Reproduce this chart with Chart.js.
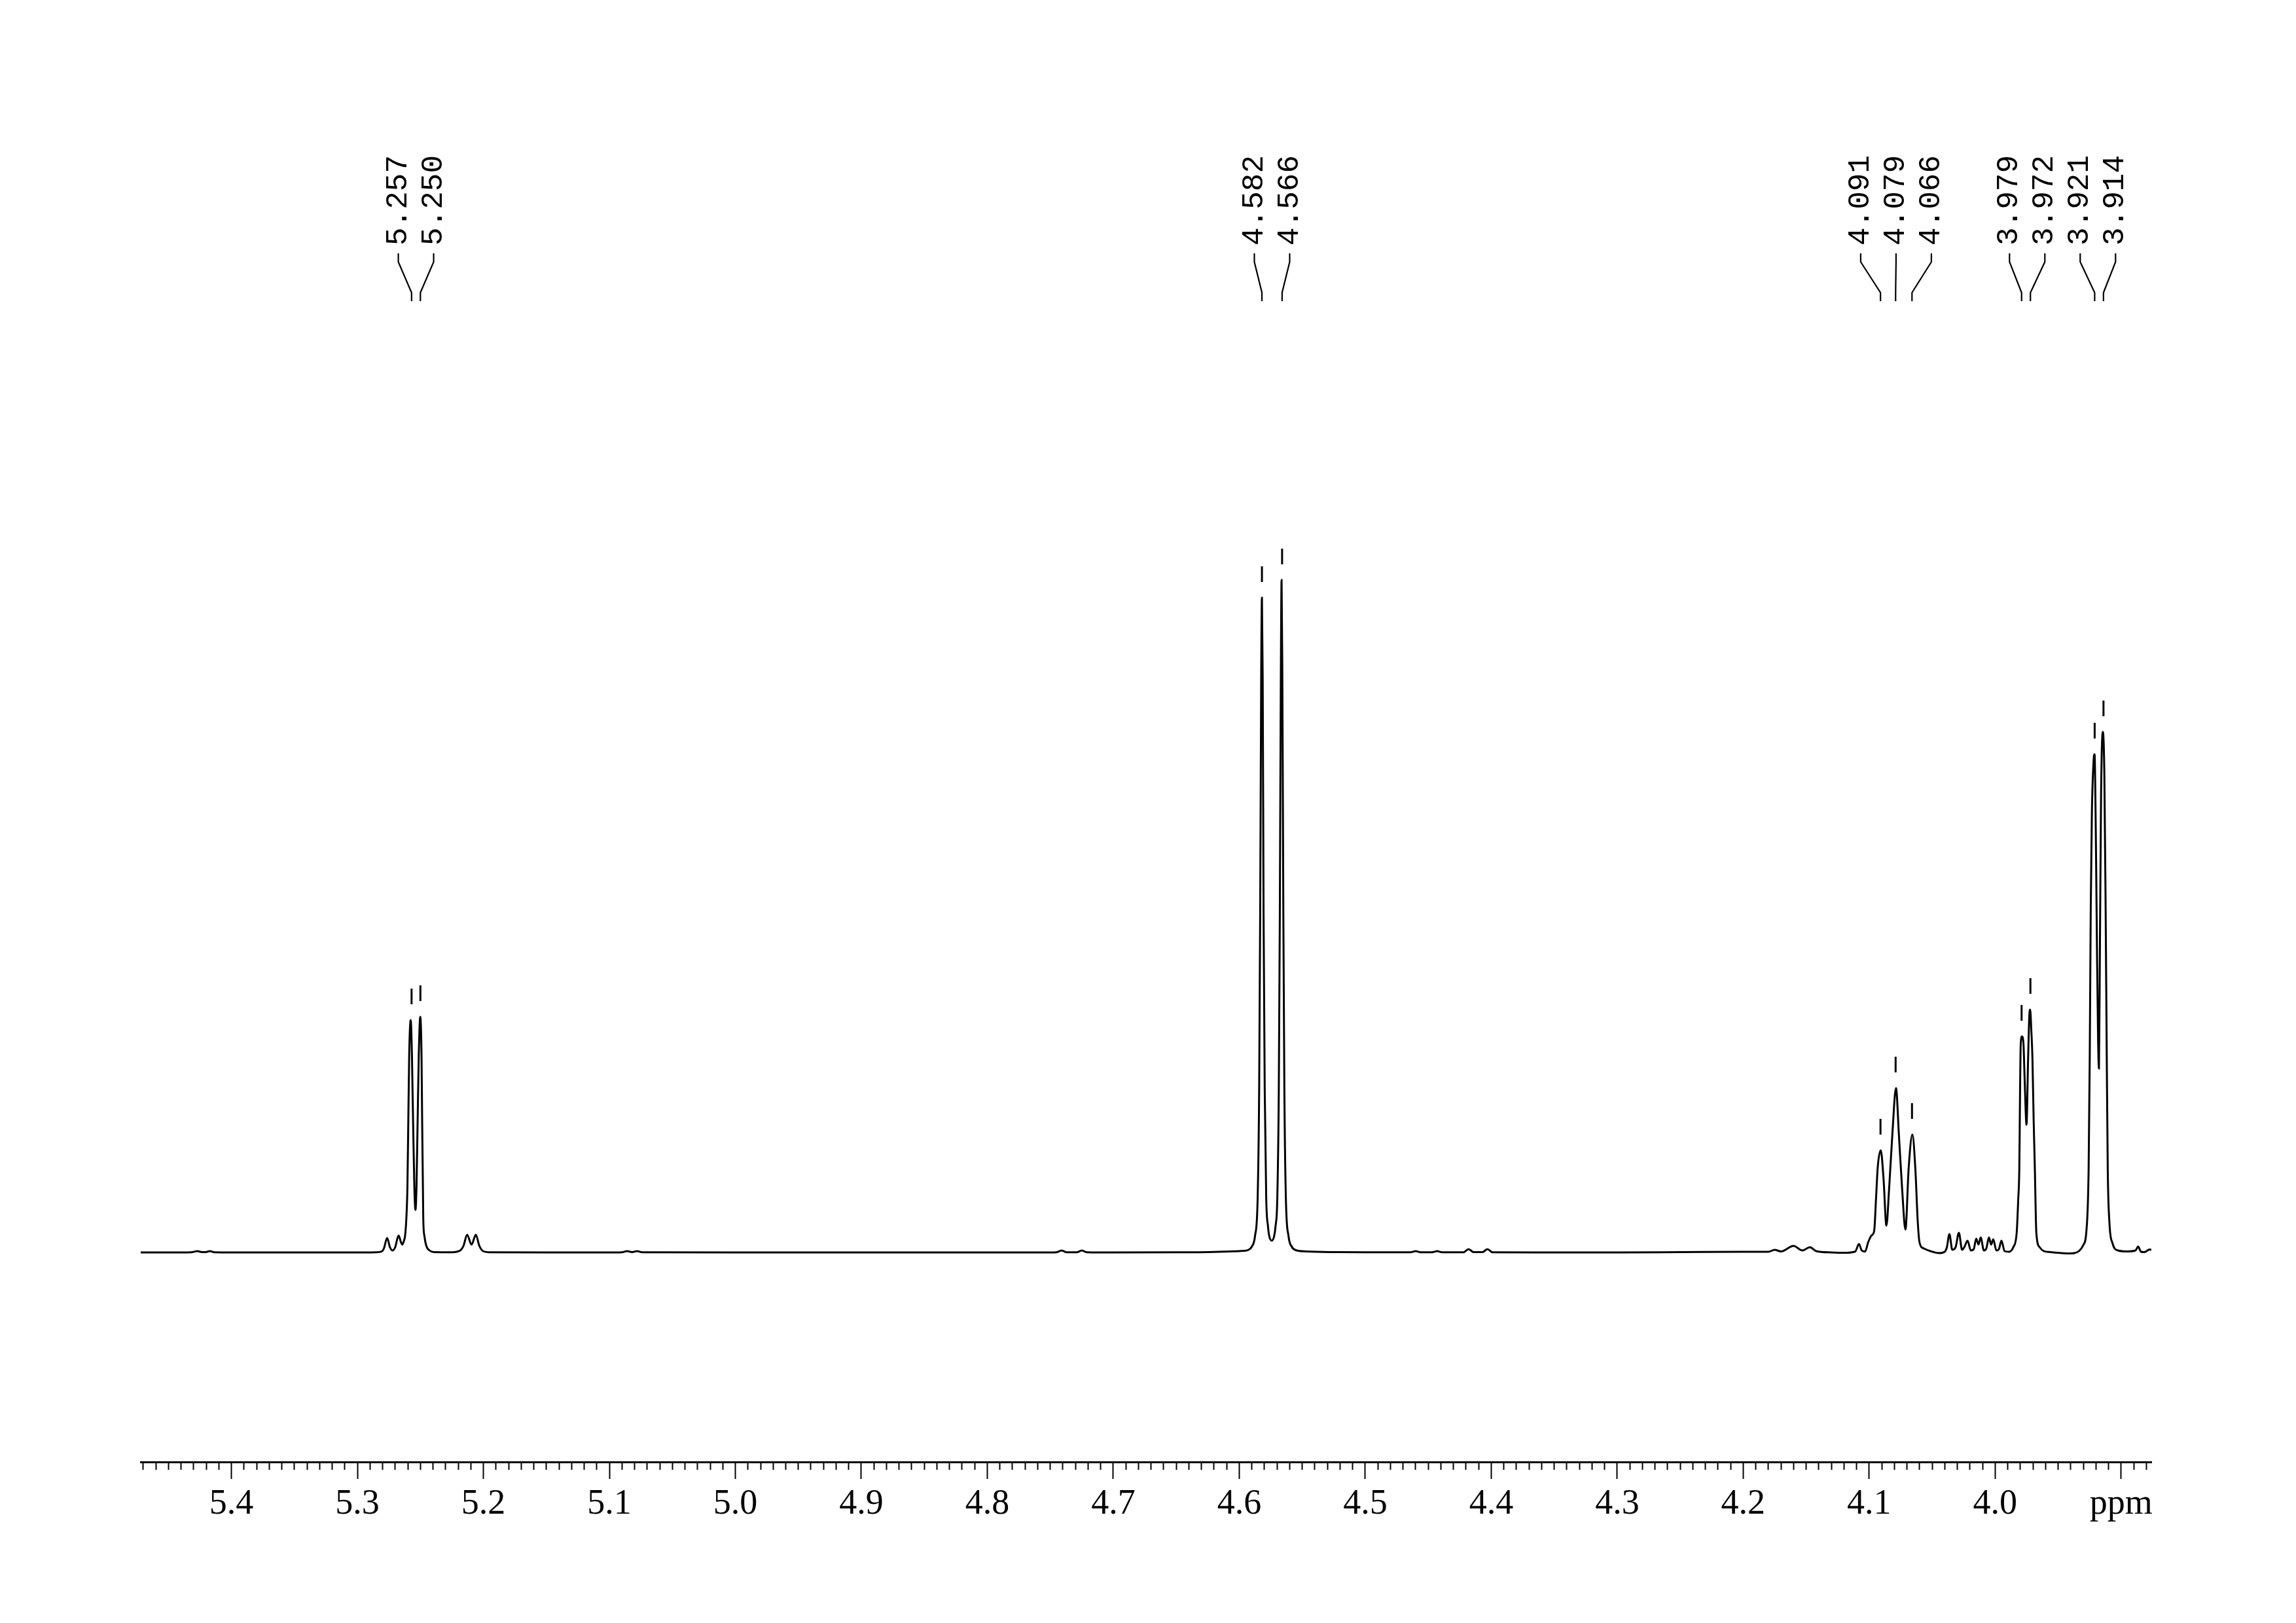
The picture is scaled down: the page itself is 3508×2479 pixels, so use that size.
<!DOCTYPE html>
<html>
<head>
<meta charset="utf-8">
<script src="https://cdn.jsdelivr.net/npm/chart.js@4.4.0/dist/chart.umd.min.js"></script>
<style>
html,body{margin:0;padding:0;background:#ffffff;}
canvas{display:block;}
</style>
</head>
<body>
<canvas id="c" width="3508" height="2479"></canvas>
<script>
// ---------------- data ----------------
const shiftPpm = [
5.472,5.450,5.432,5.427,5.4235,5.4205,5.417,5.4135,5.400,5.350,5.300,5.285,
5.2808,5.2790,5.2764,5.2742,5.2721,5.2700,5.2673,5.2655,5.2643,5.2634,5.2622,5.2612,
5.2603,5.2596,5.2589,5.2577,5.2567,5.2558,5.2548,5.2539,5.2531,5.2522,5.2513,5.2501,
5.2491,5.2486,5.2480,5.2477,5.2468,5.2453,5.2427,5.2392,5.2250,5.2184,5.2158,5.2129,
5.2094,5.2060,5.2032,5.2002,5.1950,5.150,5.100,5.090,5.086,5.082,5.078,5.074,
5.000,4.900,4.800,4.750,4.745,4.741,4.737,4.729,4.725,4.721,4.700,4.650,
4.6248,4.6071,4.5967,4.5932,4.5900,4.5875,4.5854,4.5842,4.5834,4.5826,4.5820,4.5814,
4.5807,4.5798,4.5786,4.5772,4.5762,4.5742,4.5723,4.5712,4.5698,4.5686,4.5678,4.5670,
4.5664,4.5658,4.5650,4.5642,4.5630,4.5609,4.5584,4.5551,4.5468,4.5213,4.500,4.4640,
4.4600,4.4560,4.4470,4.4430,4.4390,4.4220,4.4180,4.4140,4.4070,4.4030,4.3990,4.350,
4.300,4.250,4.200,4.1800,4.1750,4.1700,4.1600,4.1530,4.1470,4.1420,4.1300,4.1200,
4.1111,4.1081,4.1059,4.1033,4.1007,4.0981,4.0960,4.0946,4.0932,4.0908,4.0886,4.0863,
4.0842,4.0816,4.0787,4.0764,4.0738,4.0712,4.0686,4.0657,4.0634,4.0614,4.0600,4.0565,
4.0514,4.0444,4.0401,4.0383,4.0363,4.0340,4.0314,4.0288,4.0262,4.0245,4.0219,4.0193,
4.0170,4.0150,4.0132,4.0115,4.0089,4.0070,4.0049,4.0032,4.0015,3.9990,3.9970,3.9950,
3.9925,3.9890,3.9856,3.9829,3.9817,3.9808,3.9803,3.9798,3.9787,3.9775,3.9765,3.9751,
3.9739,3.9729,3.9722,3.9713,3.9704,3.9694,3.9685,3.9673,3.9647,3.9613,3.9561,3.9474,
3.9400,3.9370,3.9336,3.9301,3.9275,3.9258,3.9249,3.9241,3.9232,3.9218,3.9211,3.9201,
3.9192,3.9183,3.9176,3.9168,3.9159,3.9145,3.9133,3.9123,3.9114,3.9106,3.9093,3.9068,
3.9024,3.8955,3.8886,3.8865,3.8842,3.8816,3.8773,3.8760
];
const intensity = [
0,0,0.3,2,0.5,0.6,2,0.2,0,0,0,0.3,
1.3,6,22,8,3,8,26,16,12,16,25,50,
100,200,300,355,300,200,100,65,100,200,300,360,
300,200,100,50,25,10,3,0.5,0.3,3,10,27,
12,27,10,2,0.3,0,0,0.3,2,0.5,2,0.3,
0,0,0,0,0.3,3,0.3,0.3,3,0.3,0,0.2,
0.5,1.5,2.5,3.5,9,25,83,250,516,877,1000,877,
516,250,83,40,25,18,25,40,83,250,516,877,
1027,877,516,250,83,25,9,3.5,1.5,0.5,0.3,0.3,
2,0.3,0.3,2,0.3,0.3,5,0.5,0.5,5,0.3,0,
0,0.5,1,1,4,1.5,10,3,8,2,0,-0.5,
1.3,13,3,1.3,16,26,33,80,130,156,113,41,
96,180,251,180,96,35,130,180,130,46,15,6,
2,-1,1,8,28,4,8,30,4,8,18,3,
5,21,12,23,3,6,23,12,20,3,5,18,
2,1,8,30,80,130,230,313,330,318,260,195,
290,360,371,340,297,200,130,30,8,2,0.5,-1,
-1.5,-1,2,11,34,126,299,528,672,752,761,643,
471,327,281,471,701,795,729,528,299,126,46,14,
3,1.5,3,9,1,0.5,4.5,4
];

const peakLabels  = ['5.257','5.250','4.582','4.566','4.091','4.079','4.066','3.979','3.972','3.921','3.914'];
const peakPpm     = [5.257, 5.250, 4.582, 4.566, 4.091, 4.079, 4.066, 3.979, 3.972, 3.921, 3.914];
const peakHeights = [355, 360, 1000, 1027, 156, 251, 180, 330, 371, 761, 795];

const majorTickValues = [5.4,5.3,5.2,5.1,5.0,4.9,4.8,4.7,4.6,4.5,4.4,4.3,4.2,4.1,4.0,3.9];
const majorTickLabels = ['5.4','5.3','5.2','5.1','5.0','4.9','4.8','4.7','4.6','4.5','4.4','4.3','4.2','4.1','4.0','ppm'];
const axisLow = 3.876, axisHigh = 5.472;

// ---------------- layout / styling ----------------
const W = 3508, H = 2479;
const AREA_LEFT = 215, AREA_RIGHT = 3287, AREA_TOP = 100, AREA_BOTTOM = 2233, BASELINE_Y = 1913;
const MARKER_GAP = 36;

function majorIndex(v){ return majorTickValues.findIndex(m => Math.abs(m - v) < 1e-6); }

const peakLabelPlugin = {
  id: 'peakLabelPlugin',
  afterDatasetsDraw(chart){
    const xs = chart.scales.x;
    const ctx = chart.ctx;
    const px = peakPpm.map(v => xs.getPixelForValue(v));
    const groups = []; let cur = [0];
    for (let i = 1; i < px.length; i++){
      if (Math.abs(px[i] - px[i-1]) < 110) cur.push(i); else { groups.push(cur); cur = [i]; }
    }
    groups.push(cur);
    ctx.save();
    ctx.strokeStyle = '#000'; ctx.fillStyle = '#000'; ctx.lineWidth = 2.2;
    ctx.font = "46px 'Liberation Mono'";
    groups.forEach(g => {
      const mean = g.reduce((s,i) => s + px[i], 0) / g.length;
      const sp = 54;
      g.forEach((i,k) => {
        const cx = mean + (k - (g.length - 1) / 2) * sp;
        ctx.beginPath();
        ctx.moveTo(cx, 387); ctx.lineTo(cx, 400);
        ctx.lineTo(px[i], 447); ctx.lineTo(px[i], 460);
        ctx.stroke();
        ctx.save();
        ctx.translate(cx, 375); ctx.rotate(-Math.PI / 2);
        ctx.textAlign = 'left'; ctx.textBaseline = 'middle';
        ctx.fillText(peakLabels[i], 0, 0);
        ctx.restore();
      });
    });
    ctx.restore();
  }
};

new Chart(document.getElementById('c'), {
  type: 'line',
  data: {
    datasets: [
      {
        label: 'spectrum',
        data: shiftPpm.map((x,i) => ({x: x, y: intensity[i]})),
        borderColor: '#000', borderWidth: 3, pointRadius: 0,
        cubicInterpolationMode: 'monotone', fill: false
      },
      {
        label: 'peak markers',
        data: peakPpm.map((x,i) => ({x: x, y: peakHeights[i] + MARKER_GAP})),
        showLine: false, pointStyle: 'line', rotation: 90, pointRadius: 12,
        borderColor: '#000', borderWidth: 3, pointBorderWidth: 3
      }
    ]
  },
  options: {
    responsive: false, animation: false, devicePixelRatio: 1,
    layout: { padding: { left: AREA_LEFT, right: W - AREA_RIGHT, top: AREA_TOP, bottom: 0 } },
    plugins: { legend: { display: false }, tooltip: { enabled: false } },
    scales: {
      x: {
        type: 'linear', reverse: true, min: axisLow, max: axisHigh,
        afterBuildTicks(scale){
          const t = [];
          for (let k = 388; k <= 547; k++) t.push({ value: k / 100 });
          scale.ticks = t;
        },
        afterFit(scale){ scale.height = H - AREA_BOTTOM; },
        ticks: {
          autoSkip: false, maxRotation: 0, minRotation: 0, padding: 6, color: '#000',
          font: { family: "'Liberation Serif'", size: 54 },
          callback(value){ const i = majorIndex(value); return i >= 0 ? majorTickLabels[i] : ''; }
        },
        grid: {
          drawOnChartArea: false, drawTicks: true, tickLength: 26, tickWidth: 2, tickColor: '#000',
          tickBorderDash(ctx){ return (ctx.tick && majorIndex(ctx.tick.value) >= 0) ? [] : [10, 100]; }
        },
        border: { display: true, color: '#000', width: 3 }
      },
      y: {
        type: 'linear', display: false,
        min: BASELINE_Y - AREA_BOTTOM, max: BASELINE_Y - AREA_TOP
      }
    }
  },
  plugins: [peakLabelPlugin]
});
</script>
</body>
</html>
